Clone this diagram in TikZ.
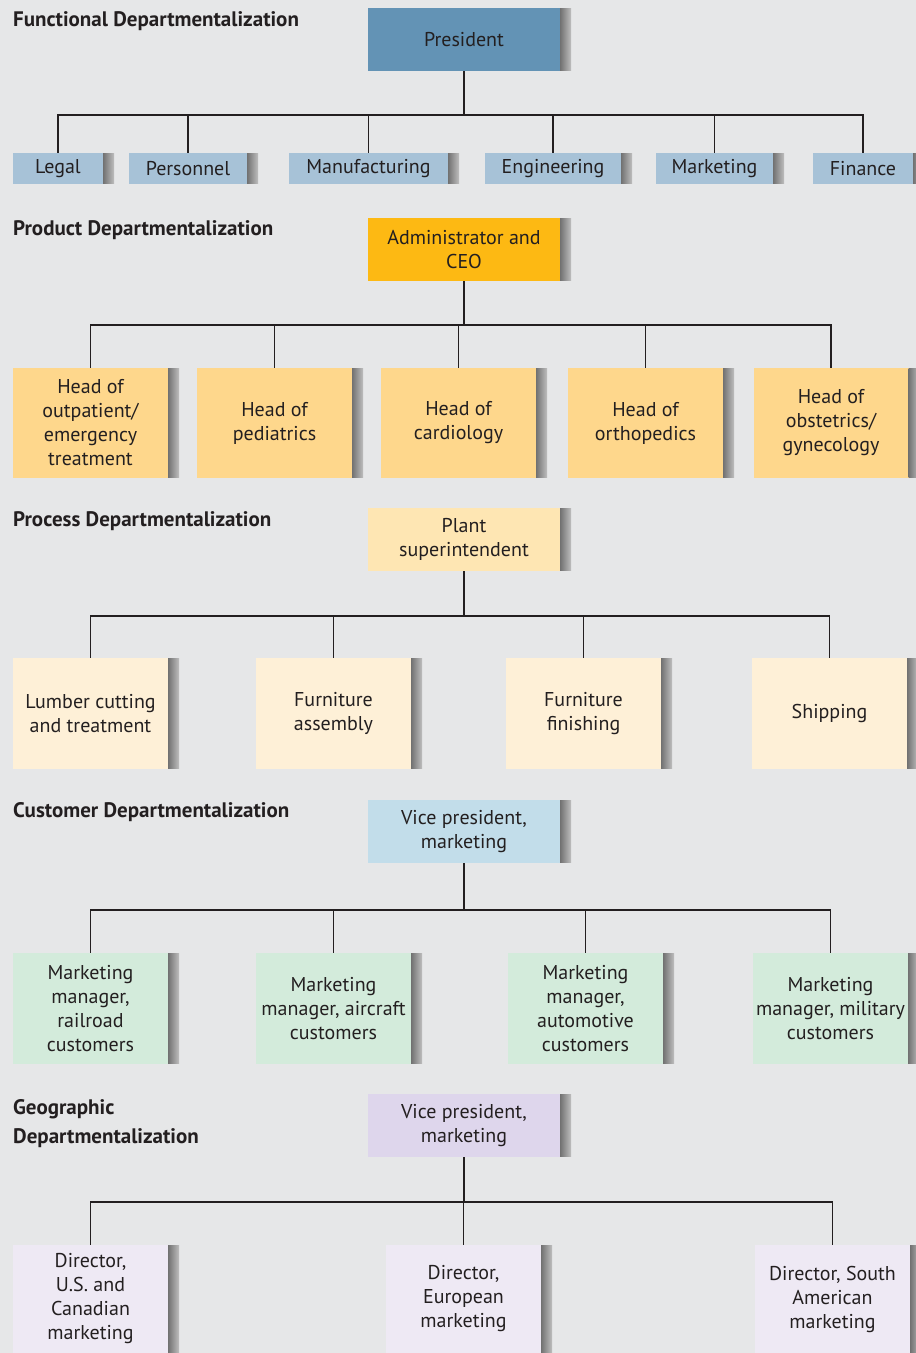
\documentclass[tikz,border=0pt]{standalone}
\usepackage{fontspec}
\setmainfont{PT Sans}
\begin{document}
\begin{tikzpicture}[x=1pt,y=-1pt]
% palette
\definecolor{bg}{RGB}{230,231,232}
\definecolor{ink}{RGB}{35,31,32}
\definecolor{funTop}{RGB}{99,147,181}
\definecolor{funSub}{RGB}{167,194,215}
\definecolor{prdTop}{RGB}{253,185,19}
\definecolor{prdSub}{RGB}{254,215,140}
\definecolor{prcTop}{RGB}{254,230,179}
\definecolor{prcSub}{RGB}{254,240,215}
\definecolor{cusTop}{RGB}{194,221,234}
\definecolor{cusSub}{RGB}{211,235,219}
\definecolor{geoTop}{RGB}{222,214,236}
\definecolor{geoSub}{RGB}{238,233,244}
\tikzset{
  heading/.style={anchor=base west, inner sep=0pt, align=left, text=ink,
    font=\fontsize{21}{29}\selectfont\bfseries},
  unit/.style={rectangle, inner sep=0pt, align=center, text=ink,
    font=\fontsize{20}{24}\selectfont},
  head/.style={unit, minimum width=192pt, minimum height=63pt},
  wide/.style={unit, minimum width=155pt, minimum height=#1},
  wide/.default=110pt,
  link/.style={draw=ink, line width=1.8pt},
}
\fill[bg] (0,0) rectangle (916,1353);
\useasboundingbox (0,0) rectangle (916,1353);

% ---------- Functional ----------
\node[heading] (t1) at (13,26) {Functional Departmentalization};
\node[head, fill=funTop] (pres) at (464,39.5) {President};
\node[unit, fill=funSub, minimum width=90pt, minimum height=31pt] (legal) at (58,168.5) {Legal};
\node[unit, fill=funSub, minimum width=118pt, minimum height=31pt] (pers) at (188,168.5) {Personnel};
\node[unit, fill=funSub, minimum width=159pt, minimum height=31pt] (manu) at (368.5,168.5) {Manufacturing};
\node[unit, fill=funSub, minimum width=136pt, minimum height=31pt] (engi) at (553,168.5) {Engineering};
\node[unit, fill=funSub, minimum width=117pt, minimum height=31pt] (mark) at (714.5,168.5) {Marketing};
\node[unit, fill=funSub, minimum width=100pt, minimum height=31pt] (fina) at (863,168.5) {Finance};
\foreach \c in {legal,pers,manu,engi,mark,fina}
  \draw[link] (pres.south) -- ++(0,44) -| (\c.north);

% ---------- Product ----------
\node[heading] (t2) at (13,235) {Product Departmentalization};
\node[head, fill=prdTop] (ceo) at (464,249.5) {Administrator and\\CEO};
\node[wide, fill=prdSub] (outp) at (90.5,423) {Head of\\outpatient/\\emergency\\treatment};
\node[wide, fill=prdSub] (pedi) at (274.5,423) {Head of\\pediatrics};
\node[wide, fill=prdSub] (card) at (458.5,423) {Head of\\cardiology};
\node[wide, fill=prdSub] (orth) at (645.5,423) {Head of\\orthopedics};
\node[wide, fill=prdSub] (obst) at (831,423) {Head of\\obstetrics/\\gynecology};
\foreach \c in {outp,pedi,card,orth,obst}
  \draw[link] (ceo.south) -- ++(0,44) -| (\c.north);

% ---------- Process ----------
\node[heading] (t3) at (13,526) {Process Departmentalization};
\node[head, fill=prcTop] (plant) at (464,539.5) {Plant\\superintendent};
\node[wide=111pt, fill=prcSub] (lumb) at (90.5,713.5) {Lumber cutting\\and treatment};
\node[wide=111pt, fill=prcSub] (asse) at (333.5,713.5) {Furniture\\assembly};
\node[wide=111pt, fill=prcSub] (fini) at (583.5,713.5) {Furniture\\finishing};
\node[wide=111pt, fill=prcSub] (ship) at (829.5,713.5) {Shipping};
\foreach \c in {lumb,asse,fini,ship}
  \draw[link] (plant.south) -- ++(0,45) -| (\c.north);

% ---------- Customer ----------
\node[heading] (t4) at (13,817) {Customer Departmentalization};
\node[head, fill=cusTop] (vpc) at (464,831.5) {Vice president,\\marketing};
\node[wide=111pt, fill=cusSub] (rail) at (90.5,1008.5) {Marketing\\manager,\\railroad\\customers};
\node[wide=111pt, fill=cusSub] (airc) at (333.5,1008.5) {Marketing\\manager, aircraft\\customers};
\node[wide=111pt, fill=cusSub] (auto) at (585.5,1008.5) {Marketing\\manager,\\automotive\\customers};
\node[wide=111pt, fill=cusSub] (mili) at (830.5,1008.5) {Marketing\\manager, military\\customers};
\foreach \c in {rail,airc,auto,mili}
  \draw[link] (vpc.south) -- ++(0,47) -| (\c.north);

% ---------- Geographic ----------
\node[heading] (t5) at (13,1143) {Geographic\\Departmentalization};
\node[head, fill=geoTop] (vpg) at (464,1125.5) {Vice president,\\marketing};
\node[wide=108pt, fill=geoSub] (usca) at (90.5,1299) {Director,\\U.S. and\\Canadian\\marketing};
\node[wide=108pt, fill=geoSub] (euro) at (463.5,1299) {Director,\\European\\marketing};
\node[wide=108pt, fill=geoSub] (sout) at (832.5,1299) {Director, South\\American\\marketing};
\foreach \c in {usca,euro,sout}
  \draw[link] (vpg.south) -- ++(0,45) -| (\c.north);

% grey strip along the right edge of every box
\foreach \n in {pres,legal,pers,manu,engi,mark,fina,
                ceo,outp,pedi,card,orth,obst,
                plant,lumb,asse,fini,ship,
                vpc,rail,airc,auto,mili,
                vpg,usca,euro,sout}
  \shade[left color=black!55, right color=black!25]
    ([yshift=-1pt]\n.north east) rectangle ([xshift=11pt,yshift=1pt]\n.south east);
\end{tikzpicture}
\end{document}
